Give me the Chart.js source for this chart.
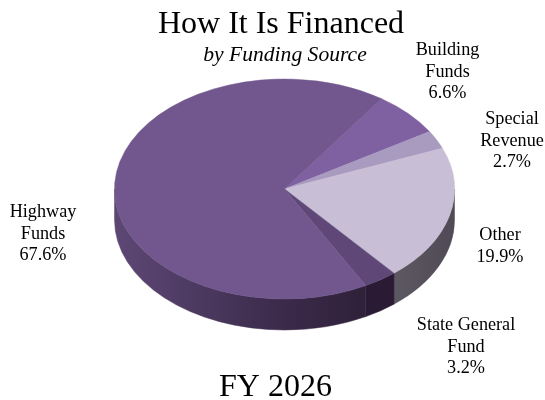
<!DOCTYPE html>
<html>
<head>
<meta charset="utf-8">
<title>How It Is Financed</title>
<script src="https://cdn.jsdelivr.net/npm/chart.js@4"></script>
<style>
html, body { margin: 0; padding: 0; background: #fff; }
#wrap { width: 545px; height: 400px; }
</style>
</head>
<body>
<div id="wrap"><canvas id="fundingChart" width="545" height="400"></canvas></div>
<script>
const categories = ['Building Funds', 'Special Revenue', 'Other', 'State General Fund', 'Highway Funds'];
const shares = [6.6, 2.7, 19.9, 3.2, 67.6];
const labelLines = [['Building', 'Funds'], ['Special', 'Revenue'], ['Other'], ['State General', 'Fund'], ['Highway', 'Funds']];

const topColors = ['#7f61a1', '#a99bbf', '#c8bfd6', '#5f4777', '#71578d'];

// label centres and first baselines in page pixels, same order as categories
const labelX = [447.5, 512, 500, 466, 43];
const labelY = [55, 124, 240, 330, 217];
const LINE_GAP = 21.5;

// the tilt of the fake 3D
const TILT = 110 / 170;
const DEPTH = 31;
const SERIF = '"Liberation Serif", "Times New Roman", serif';

function wallFill(ctx, index, cx, r) {
    const g = ctx.createLinearGradient(cx - r, 0, cx + r, 0);
    if (index === 4) {
        g.addColorStop(0, '#5e4775');
        g.addColorStop(0.2, '#4f3c64');
        g.addColorStop(0.5, '#3b2a4a');
        g.addColorStop(0.75, '#2f2039');
        g.addColorStop(1, '#2a1b33');
        return g;
    }
    if (index === 3) return '#2b1a34';
    if (index === 2) {
        g.addColorStop(0.75, '#625e66');
        g.addColorStop(1, '#4f4a55');
        return g;
    }
    return '#4a3a5c';
}

const pie3d = {
    id: 'pie3d',
    beforeDatasetsDraw(chart) {
        const ctx = chart.ctx;
        const arcs = chart.getDatasetMeta(0).data;
        arcs.forEach((arc, i) => {
            const cx = arc.x, cy = arc.y, r = arc.outerRadius;
            // only the front half of the rim can be seen
            for (let turn = -1; turn <= 1; turn++) {
                const a0 = Math.max(arc.startAngle + turn * 2 * Math.PI, 0);
                const a1 = Math.min(arc.endAngle + turn * 2 * Math.PI, Math.PI);
                if (a1 <= a0) continue;
                ctx.beginPath();
                ctx.ellipse(cx, cy, r, r * TILT, 0, a0, a1);
                ctx.ellipse(cx, cy + DEPTH, r, r * TILT, 0, a1, a0, true);
                ctx.closePath();
                ctx.fillStyle = ctx.strokeStyle = wallFill(ctx, i, cx, r);
                ctx.lineWidth = 0.5;
                ctx.fill();
                ctx.stroke();
            }
        });
        const first = arcs[0];
        ctx.save();
        ctx.translate(first.x, first.y);
        ctx.scale(1, TILT);
        ctx.translate(-first.x, -first.y);
    },
    afterDatasetsDraw(chart) {
        chart.ctx.restore();
    },
    afterDraw(chart) {
        const ctx = chart.ctx;
        ctx.save();
        ctx.fillStyle = '#000';
        ctx.textAlign = 'center';
        ctx.textBaseline = 'alphabetic';
        ctx.font = '32px ' + SERIF;
        ctx.fillText('How It Is Financed', 281, 33);
        ctx.fillText('FY 2026', 275.5, 396);
        ctx.font = 'italic 21.6px ' + SERIF;
        ctx.fillText('by Funding Source', 285, 61);
        ctx.font = '18.2px ' + SERIF;
        categories.forEach((name, i) => {
            const lines = labelLines[i].concat(shares[i].toFixed(1) + '%');
            lines.forEach((line, n) => ctx.fillText(line, labelX[i], labelY[i] + n * LINE_GAP));
        });
        ctx.restore();
    }
};

const ctx = document.getElementById('fundingChart').getContext('2d');
const fundingChart = new Chart(ctx, {
    type: 'pie',
    data: {
        labels: categories,
        datasets: [{
            data: shares,
            backgroundColor: topColors,
            borderColor: topColors,
            borderWidth: 0.6
        }]
    },
    options: {
        responsive: false,
        animation: false,
        rotation: 34.8,
        radius: 170,
        layout: { padding: { left: 114.5, right: 90.5, top: 19, bottom: 41 } },
        plugins: {
            legend: { display: false },
            tooltip: { enabled: false }
        }
    },
    plugins: [pie3d]
});
</script>
</body>
</html>
